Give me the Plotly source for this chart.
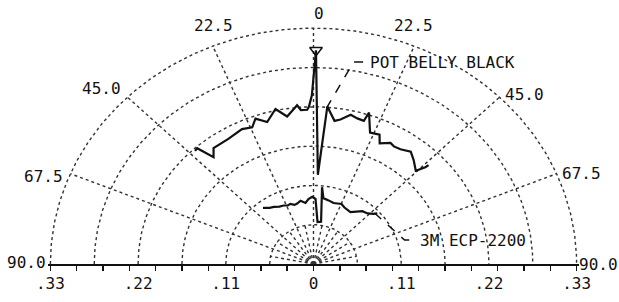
import numpy as np
import plotly.graph_objects as go

# ---------------- data (angle in degrees from the normal, relative value) ----------------
pot_angle = [-43.2, -42.0, -40.0, -37.7, -31.4, -25.4, -21.9, -19.7, -16.3, -12.4, -9.1,
             -5.3, -4.2, -2.1, -1.5, -0.5, 0.6, 2.5, 4.5, 7.5, 9.5, 12.6, 15.1, 17.5,
             18.2, 21.1, 24.6, 26.2, 29.7, 31.5, 34.2, 36.0, 37.8, 39.5, 40.9, 44.5, 46.0, 46.2]
pot_r = [0.217, 0.218, 0.195, 0.205, 0.205, 0.209, 0.206, 0.216, 0.207, 0.222, 0.209,
         0.223, 0.216, 0.216, 0.220, 0.236, 0.299, 0.125, 0.221, 0.202, 0.205, 0.214, 0.211, 0.210,
         0.223, 0.197, 0.199, 0.188, 0.195, 0.193, 0.194, 0.196, 0.199, 0.195, 0.192, 0.183, 0.195, 0.200]

ecp_angle = [-38.9, -35.0, -31.9, -28.0, -24.6, -21.5, -19.0, -16.0, -13.6, -10.4, -6.7, -4.0,
             -1.0, 1.6, 4.9, 9.1, 5.7, 7.7, 12.0, 16.4, 22.7, 26.2, 32.6, 35.7, 39.7, 43.8, 47.1, 48.4]
ecp_r = [0.101, 0.096, 0.094, 0.091, 0.090, 0.088, 0.089, 0.086, 0.087, 0.090, 0.086, 0.091,
         0.094, 0.091, 0.059, 0.060, 0.108, 0.093, 0.091, 0.089, 0.091, 0.088, 0.086, 0.090,
         0.096, 0.098, 0.103, 0.107]

series_names = ["POT BELLY BLACK", "3M ECP-2200"]

ring_r = [0.055, 0.11, 0.165, 0.22, 0.275, 0.33]
spoke_major = [-67.5, -45.0, -22.5, 0.0, 22.5, 45.0, 67.5]
spoke_minor = [-78.75, -56.25, -33.75, -11.25, 11.25, 33.75, 56.25, 78.75]
angle_labels = ["90.0", "67.5", "45.0", "22.5", "0", "22.5", "45.0", "67.5", "90.0"]
radial_tickvals = [-0.33, -0.22, -0.11, 0.0, 0.11, 0.22, 0.33]
radial_ticktext = [".33", ".22", ".11", "0", ".11", ".22", ".33"]

FONT = "DejaVu Sans Mono"
RMAX = 0.333


def to_xy(ang, r):
    a = np.radians(np.asarray(ang, dtype=float))
    r = np.asarray(r, dtype=float)
    return r * np.sin(a), r * np.cos(a)


fig = go.Figure()

# ---- grid rings ----
gx, gy = [], []
t = np.linspace(-90, 90, 241)
for rr in ring_r:
    x, y = to_xy(t, np.full_like(t, rr))
    gx += list(x) + [None]
    gy += list(y) + [None]
for a in spoke_major:
    x, y = to_xy([a, a], [0, ring_r[-1]])
    gx += list(x) + [None]
    gy += list(y) + [None]
for a in spoke_minor:
    x, y = to_xy([a, a], [0, ring_r[0]])
    gx += list(x) + [None]
    gy += list(y) + [None]
fig.add_trace(go.Scatter(x=gx, y=gy, mode="lines",
                         line=dict(color="#333333", width=1.4, dash="dot"),
                         hoverinfo="skip", showlegend=False))

# ---- data curves ----
px_, py_ = to_xy(pot_angle, pot_r)
fig.add_trace(go.Scatter(x=px_, y=py_, mode="lines", name=series_names[0],
                         line=dict(color="#111111", width=2.2), showlegend=False))
ex_, ey_ = to_xy(ecp_angle, ecp_r)
fig.add_trace(go.Scatter(x=ex_, y=ey_, mode="lines", name=series_names[1],
                         line=dict(color="#111111", width=2.2), showlegend=False))

# peak marker on POT BELLY BLACK
ipk = int(np.argmax(pot_r))
fig.add_trace(go.Scatter(x=[px_[ipk]], y=[py_[ipk]], mode="markers",
                         marker=dict(symbol="triangle-down-open", size=11,
                                     color="#111111", line=dict(width=1.5)),
                         cliponaxis=False, showlegend=False, hoverinfo="skip"))

# ---- leaders ----
fig.add_trace(go.Scatter(x=[0.0163, 0.0502, 0.064], y=[0.218, 0.2825, 0.2825],
                         mode="lines", line=dict(color="#111111", width=1.5, dash="dash"),
                         showlegend=False, hoverinfo="skip"))
fig.add_trace(go.Scatter(x=[0.0765, 0.1066, 0.1142, 0.1242], y=[0.0713, 0.042, 0.0336, 0.0336],
                         mode="lines", line=dict(color="#111111", width=1.5, dash="dash"),
                         showlegend=False, hoverinfo="skip"))


def xp(v):
    return (v + RMAX) / (2 * RMAX)


def yp(v):
    return v / RMAX


ann = []
ann.append(dict(x=xp(0.0678), y=yp(0.2825), text=series_names[0], xanchor="left", yanchor="middle"))
ann.append(dict(x=xp(0.1305), y=yp(0.0322), text=series_names[1], xanchor="left", yanchor="middle"))

lab_x = [-0.360, -0.3388, -0.266, -0.1255, 0.0075, 0.1255, 0.2647, 0.336, 0.3576]
lab_y = [0.0014, 0.123, 0.246, 0.334, 0.350, 0.334, 0.2378, 0.126, 0.000]
for txt, lx, ly in zip(angle_labels, lab_x, lab_y):
    ann.append(dict(x=xp(lx), y=yp(ly), text=txt, xanchor="center", yanchor="middle"))

for a in ann:
    a.update(xref="paper", yref="paper", showarrow=False,
             font=dict(family=FONT, size=16, color="#111111"))

minor_vals = [round(k * 0.033, 3) for k in range(-10, 11)]

fig.update_layout(
    width=619, height=302, autosize=False,
    margin=dict(l=48, r=40, t=26, b=38, pad=0),
    paper_bgcolor="white", plot_bgcolor="white",
    annotations=ann,
    hovermode=False,
    xaxis=dict(range=[-RMAX, RMAX], tickvals=radial_tickvals, ticktext=radial_ticktext,
               ticks="", showgrid=False, zeroline=False, automargin=False,
               showline=True, linecolor="#111111", linewidth=2,
               tickfont=dict(family=FONT, size=16, color="#111111"),
               ticklabelstandoff=4,
               minor=dict(tickvals=minor_vals, ticks="outside", ticklen=5,
                          tickwidth=1.5, tickcolor="#111111", showgrid=False),
               fixedrange=True),
    yaxis=dict(range=[0, RMAX], visible=False, automargin=False, fixedrange=True),
    showlegend=False,
)

# remove the default page margin so the figure sits at the window's top-left corner
fig.write_html("out.html",
               config={"displayModeBar": False, "staticPlot": True},
               post_script="document.body.style.margin='0';document.body.style.overflow='hidden';")
